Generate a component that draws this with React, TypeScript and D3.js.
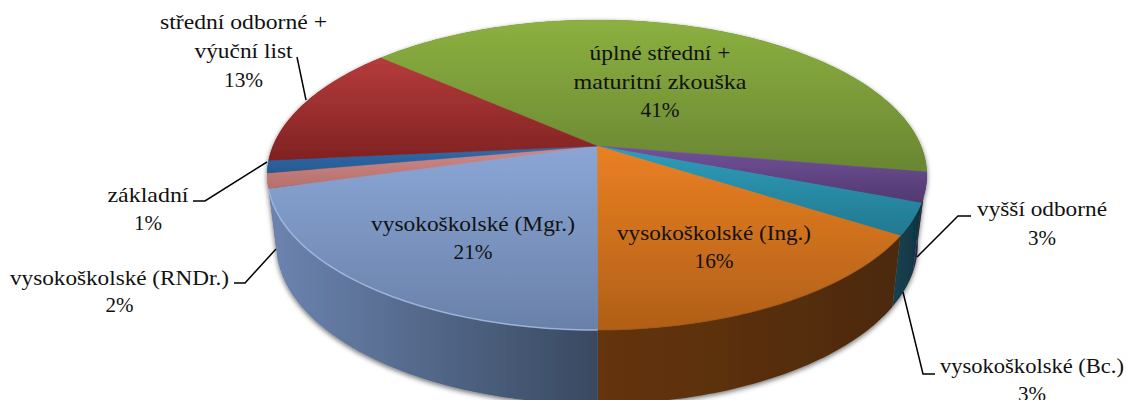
import React from "react";
import * as d3 from "d3";

// Data (labels show the rounded percentages)
const categories = [
  "úplné střední + maturitní zkouška",
  "vyšší odborné",
  "vysokoškolské (Bc.)",
  "vysokoškolské (Ing.)",
  "vysokoškolské (Mgr.)",
  "vysokoškolské (RNDr.)",
  "základní",
  "střední odborné + výuční list",
];
const shares = [41.2, 3.1, 3.3, 15.9, 20.7, 1.55, 1.3, 13.0];

// Styles per slice
const topColors = [
  ["#8cb040", "#698632"],
  ["#72529a", "#50386f"],
  ["#2f9dbb", "#21788f"],
  ["#ea8022", "#b05f18"],
  ["#8ba6d6", "#6981a9"],
  ["#d08a88", "#b56f6d"],
  ["#2f6cb0", "#28598f"],
  ["#b63b3b", "#802222"],
];
const wallColors = [
  ["#4d6425", "#4d6425"],
  ["#33234e", "#2a1c40"],
  ["#174350", "#0f3240"],
  ["#653409", "#4c2a0c"],
  ["#6c84b0", "#394960"],
  ["#b3706e", "#a5605e"],
  ["#2c5a92", "#2c5a92"],
  ["#702020", "#702020"],
];

// Label layout
type Line = { t: string; w: number; y: number };
const labels: { cx: number; lines: Line[] }[] = [
  { cx: 660, lines: [{ t: "úplné střední +", w: 141, y: 60 }, { t: "maturitní zkouška", w: 173, y: 89 }, { t: "41%", w: 39, y: 117 }] },
  { cx: 243.5, lines: [{ t: "střední odborné +", w: 167, y: 29 }, { t: "výuční list", w: 98, y: 58 }, { t: "13%", w: 39, y: 87 }] },
  { cx: 148, lines: [{ t: "základní", w: 81, y: 202 }, { t: "1%", w: 28, y: 230 }] },
  { cx: 119.5, lines: [{ t: "vysokoškolské (RNDr.)", w: 219, y: 285 }, { t: "2%", w: 28, y: 312 }] },
  { cx: 1042, lines: [{ t: "vyšší odborné", w: 130, y: 216 }, { t: "3%", w: 28, y: 245 }] },
  { cx: 1032, lines: [{ t: "vysokoškolské (Bc.)", w: 184, y: 373 }, { t: "3%", w: 28, y: 401 }] },
  { cx: 473, lines: [{ t: "vysokoškolské (Mgr.)", w: 204, y: 231 }, { t: "21%", w: 39, y: 259 }] },
  { cx: 714, lines: [{ t: "vysokoškolské (Ing.)", w: 194, y: 240 }, { t: "16%", w: 39, y: 268 }] },
];
const leaders: [number, number][][] = [
  [[297, 57], [306, 100]],
  [[193, 201], [205, 201], [267, 162]],
  [[234, 283], [245, 283], [276, 249]],
  [[971, 216], [958, 216], [917, 257]],
  [[935, 374], [923, 374], [903, 292]],
];

const rad = Math.PI / 180;
const cx = 597;
type Plane = { cy: number; R: number; S: number; k: number };
const topPlane: Plane = { cy: 146, R: 324, S: 149.6, k: 0.187 };
const basePlane: Plane = { cy: 214, R: 315, S: 154, k: 0.19 };

// Perspective projection of a point on the unit circle; angle clockwise from 12 o'clock.
const project = (p: Plane, a: number): [number, number] => {
  const u = Math.sin(a);
  const v = -Math.cos(a);
  const d = 1 - p.k * v;
  return [cx + (p.R * u) / d, p.cy + (p.S * v) / d];
};

const pieGen = d3
  .pie<number>()
  .sort(null)
  .startAngle(-48.6 * rad)
  .endAngle((360 - 48.6) * rad);
const arcs = pieGen(shares);

const rimAngles = (a0: number, a1: number) => {
  const n = Math.max(2, Math.ceil((a1 - a0) / (1 * rad)));
  return d3.range(n + 1).map((i) => a0 + ((a1 - a0) * i) / n);
};
const line = d3.line();

export default function App() {
  const slices = arcs.map((s, i) => {
    const as = rimAngles(s.startAngle, s.endAngle);
    const rim = as.map((a) => project(topPlane, a));
    const base = as.map((a) => project(basePlane, a));
    const top = line([[cx, topPlane.cy], ...rim])! + "Z";
    const wall = line([...rim, ...base.slice().reverse()])! + "Z";
    const rimPath = line(rim)!;
    const ys = [topPlane.cy, ...rim.map((p) => p[1])];
    const xs = [...rim, ...base].map((p) => p[0]);
    return { i, top, wall, rimPath, y0: d3.min(ys)!, y1: d3.max(ys)!, x0: d3.min(xs)!, x1: d3.max(xs)! };
  });
  // Paint walls from the back of the pie to the front
  const frontWalls = [0, 7, 6, 1, 2, 5, 3, 4];

  return (
    <svg
      width={1127}
      height={400}
      style={{ position: "absolute", left: 0, top: 0, display: "block", background: "#fff" }}
      aria-label={categories.join(", ")}
    >
      <defs>
        {slices.map((s) => (
          <linearGradient key={s.i} id={`t${s.i}`} gradientUnits="userSpaceOnUse" x1={0} x2={0} y1={s.y0} y2={s.y1}>
            <stop offset="0" stopColor={topColors[s.i][0]} />
            <stop offset="1" stopColor={topColors[s.i][1]} />
          </linearGradient>
        ))}
        {slices.map((s) => (
          <linearGradient key={s.i} id={`w${s.i}`} gradientUnits="userSpaceOnUse" x1={s.x0} x2={s.x1} y1={0} y2={0}>
            <stop offset="0" stopColor={wallColors[s.i][0]} />
            <stop offset="1" stopColor={wallColors[s.i][1]} />
          </linearGradient>
        ))}
        <filter id="shadow" x="-10%" y="-10%" width="120%" height="120%">
          <feDropShadow dx={0} dy={2} stdDeviation={2.5} floodColor="#000" floodOpacity={0.55} />
        </filter>
      </defs>

      <g filter="url(#shadow)">
        {frontWalls.map((i) => (
          <path key={i} d={slices[i].wall} fill={`url(#w${i})`} />
        ))}
        {slices.map((s) => (
          <path key={s.i} d={s.top} fill={`url(#t${s.i})`} stroke={`url(#t${s.i})`} strokeWidth={0.4} />
        ))}
      </g>
      {/* light bevel on the front rim */}
      <path d={slices[4].rimPath} fill="none" stroke="#a9bfe6" strokeWidth={1.5} strokeOpacity={0.8} />
      <path d={slices[3].rimPath} fill="none" stroke="#8f5016" strokeWidth={1} strokeOpacity={0.5} />

      {leaders.map((pts, i) => (
        <path key={i} d={line(pts)!} fill="none" stroke="#000" strokeWidth={1.5} />
      ))}

      <g fontFamily="'Liberation Serif', serif" fontSize={21} fill="#111" textAnchor="middle">
        {labels.map((l, i) =>
          l.lines.map((ln, j) => (
            <text key={`${i}-${j}`} x={l.cx} y={ln.y} textLength={ln.w} lengthAdjust="spacingAndGlyphs">
              {ln.t}
            </text>
          ))
        )}
      </g>
    </svg>
  );
}
